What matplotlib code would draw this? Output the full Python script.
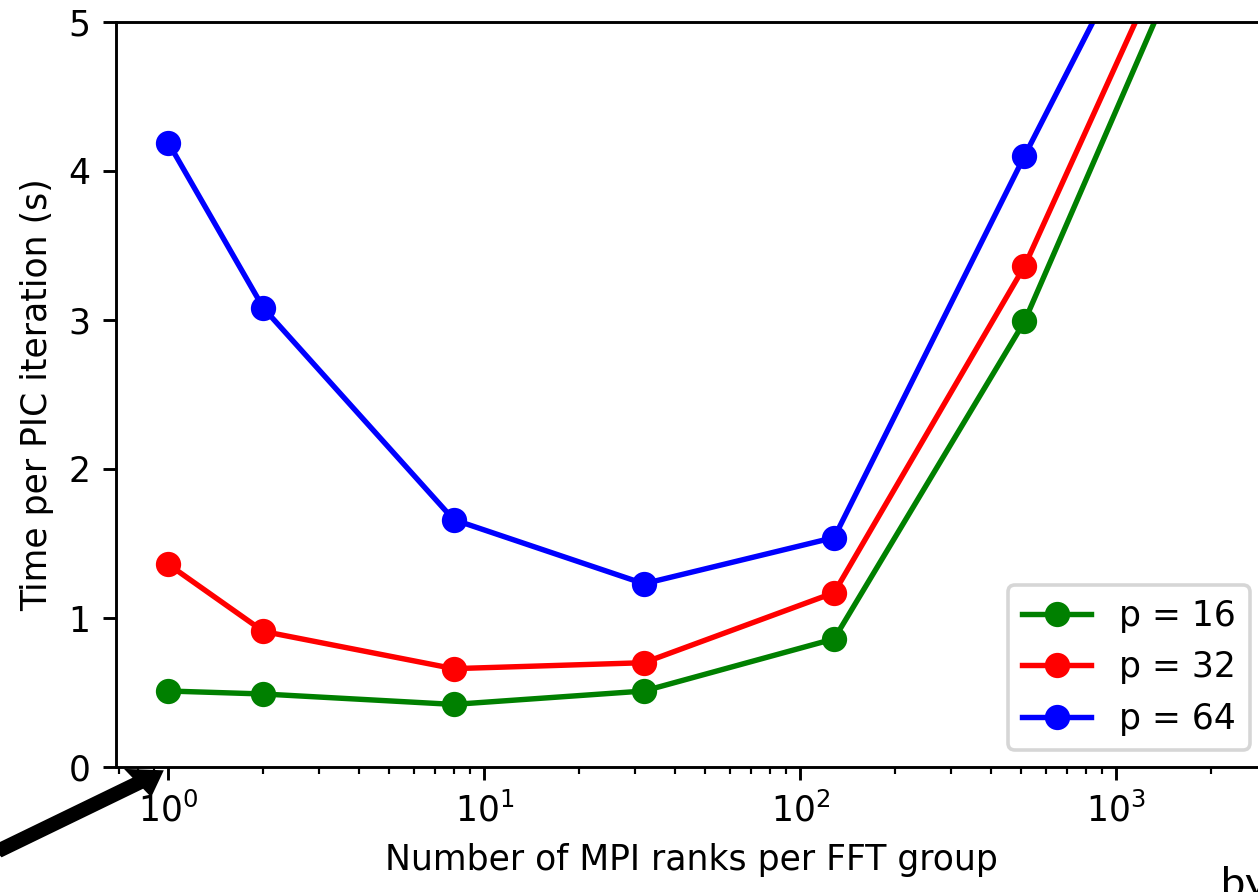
import matplotlib
matplotlib.use("Agg")
import matplotlib.pyplot as plt

# 数据：每个FFT组的MPI进程数 与 每次PIC迭代耗时
ranks = [1, 2, 8, 32, 128, 512, 2048]
time_p16 = [0.51, 0.49, 0.42, 0.51, 0.86, 2.99, 5.93]
time_p32 = [1.36, 0.91, 0.66, 0.70, 1.17, 3.36, 6.17]
time_p64 = [4.19, 3.08, 1.66, 1.23, 1.54, 4.10, 6.60]
series_labels = ["p = 16", "p = 32", "p = 64"]
series_colors = ["green", "red", "blue"]

W, H = 1258, 892
DPI = 260


def main():
    plt.rcParams['font.size'] = 9.6
    fig = plt.figure(figsize=(W / DPI, H / DPI), dpi=DPI)
    # 原图被裁剪：坐标轴右边缘略超出画布
    ax = fig.add_axes([116 / W, 1 - 767 / H, (1267 - 116) / W, (767 - 22) / H])

    for ys, lab, c in zip([time_p16, time_p32, time_p64], series_labels, series_colors):
        ax.plot(ranks, ys, "-o", color=c, label=lab)

    ax.set_xscale("log")
    ax.set_ylim(0, 5)
    ax.set_xlabel("Number of MPI ranks per FFT group")
    ax.set_ylabel("Time per PIC iteration (s)")
    ax.legend(loc="lower right")

    # 左下角的黑色箭头
    fig.patches.append(matplotlib.patches.FancyArrow(
        -2 / W, 1 - 851 / H, 163 / W, (851 - 772) / H,
        width=10 / H, head_width=28 / H, head_length=26 / W,
        length_includes_head=True, color="black",
        transform=fig.transFigure, figure=fig))

    # 右下角被裁掉的文字
    fig.text(1221 / W, 1 - 866 / H, "by", fontsize=12, family="Lato",
             ha="left", va="top")

    fig.savefig("out.png", dpi=DPI)


if __name__ == "__main__":
    main()
